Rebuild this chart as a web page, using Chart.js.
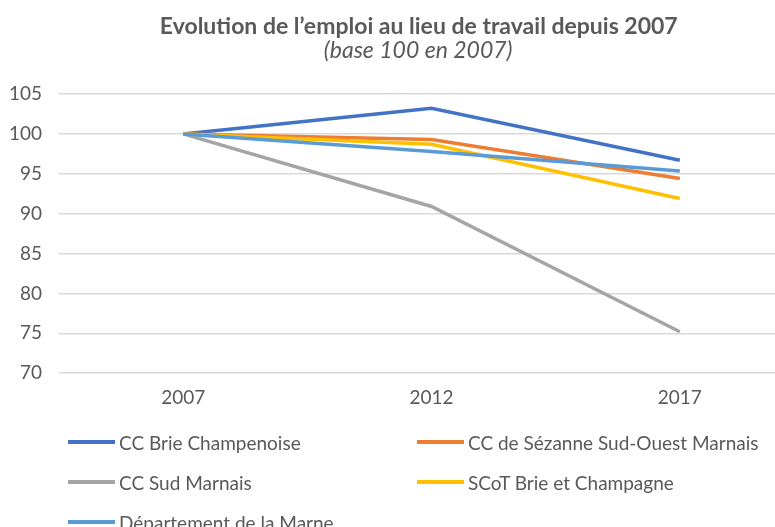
<!DOCTYPE html>
<html>
<head>
<meta charset="utf-8">
<script src="https://cdn.jsdelivr.net/npm/chart.js@4"></script>
<style>
  body { margin: 0; overflow: hidden; background: #fff; font-family: Lato, sans-serif; }
  #wrap { position: relative; width: 830px; height: 527px; }
  #legend { position: absolute; left: 0; top: 0; }
  .item { position: absolute; display: flex; align-items: center; height: 24px; color: #595959; font-size: 19px; white-space: nowrap; }
  .item span.ln { display: inline-block; width: 47px; height: 4px; margin-right: 4px; }
</style>
</head>
<body>
<div id="wrap">
  <canvas id="myChart" width="830" height="527"></canvas>
  <div id="legend"></div>
</div>
<script>
const years = ['2007', '2012', '2017']
const seriesNames = ['CC Brie Champenoise', 'CC de Sézanne Sud-Ouest Marnais', 'CC Sud Marnais', 'SCoT Brie et Champagne', 'Département de la Marne']
const brieChampenoise = [100, 103.2, 96.7]
const sezanne = [100, 99.3, 94.4]
const sudMarnais = [100, 90.9, 75.2]
const scotBrie = [100, 98.7, 91.9]
const marne = [100, 97.8, 95.35]
const colors = ['#4472C4', '#ED7D31', '#A5A5A5', '#FFC000', '#5B9BD5']

const allValues = [brieChampenoise, sezanne, sudMarnais, scotBrie, marne]

let datasets = []
for (let i = 0; i < allValues.length; i++) {
    datasets.push({
        label: seriesNames[i],
        data: allValues[i],
        borderColor: colors[i],
        backgroundColor: colors[i],
        borderWidth: 3.5,
        pointRadius: 0,
        tension: 0,
        order: allValues.length - i
    })
}

// legend in two columns, like the original
const legendPos = [[68, 442], [417, 442], [68, 482], [417, 482], [68, 522]]
const legend = document.getElementById('legend')
seriesNames.forEach((name, i) => {
    let div = document.createElement('div')
    div.className = 'item'
    div.style.left = legendPos[i][0] + 'px'
    div.style.top = (legendPos[i][1] - 12) + 'px'
    div.innerHTML = '<span class="ln" style="background:' + colors[i] + '"></span>' + name
    legend.appendChild(div)
})

// title sits a bit right of the canvas centre in the original
const pad = '\u00A0'.repeat(6)

const ctx = document.getElementById('myChart')
new Chart(ctx, {
    type: 'line',
    data: { labels: years, datasets: datasets },
    options: {
        responsive: false,
        animation: false,
        devicePixelRatio: 1,
        layout: { padding: { left: 0, right: 26, bottom: 105 } },
        plugins: {
            legend: { display: false },
            tooltip: { enabled: false },
            title: {
                display: true,
                text: pad + 'Evolution de l\u2019emploi au lieu de travail depuis 2007',
                color: '#595959',
                font: { family: 'Lato', size: 23, weight: 'bold', lineHeight: 1 },
                padding: { top: 15, bottom: 1 }
            },
            subtitle: {
                display: true,
                text: pad + '(base 100 en 2007)',
                color: '#595959',
                font: { family: 'Lato', size: 23, style: 'italic', lineHeight: 1 },
                padding: { top: 0, bottom: 32 }
            }
        },
        scales: {
            x: {
                offset: true,
                grid: { display: false, drawTicks: false },
                border: { display: false },
                ticks: { color: '#595959', font: { family: 'Lato', size: 19 }, padding: 13 }
            },
            y: {
                min: 70,
                max: 105,
                afterFit: (axis) => { axis.width = 59 },
                grid: { color: '#D9D9D9', lineWidth: 1.5, drawTicks: false },
                border: { display: false },
                ticks: { stepSize: 5, color: '#595959', font: { family: 'Lato', size: 19 }, padding: 17 }
            }
        }
    }
})
</script>
</body>
</html>
